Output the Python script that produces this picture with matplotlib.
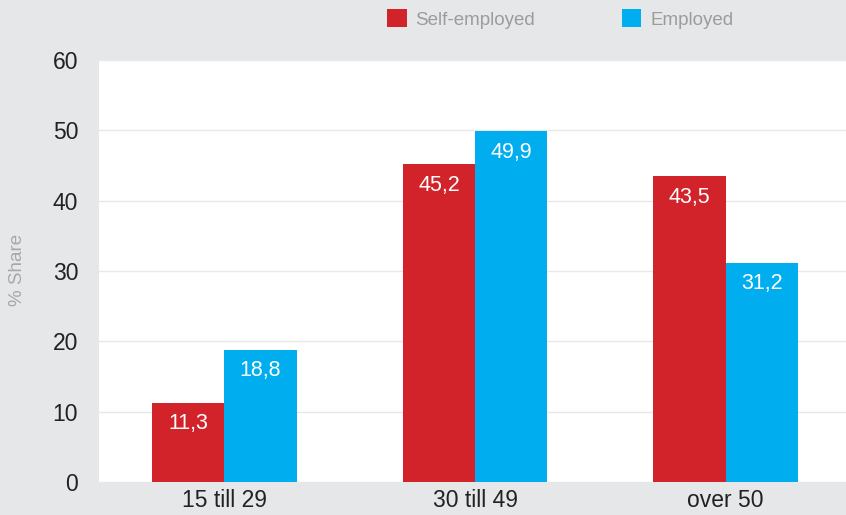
import matplotlib.pyplot as plt
import numpy as np

categories = ["15 till 29", "30 till 49", "over 50"]
self_employed = [11.3, 45.2, 43.5]
employed = [18.8, 49.9, 31.2]
series_names = ["Self-employed", "Employed"]

RED = "#D2232A"
BLUE = "#00AEEF"
BG = "#E6E7E8"

plt.rcParams['font.family'] = ['Liberation Sans', 'DejaVu Sans']

fig = plt.figure(figsize=(8.46, 5.15), dpi=100, facecolor=BG)
ax = fig.add_axes([99 / 846, 33 / 515, 747 / 846, 422 / 515])
ax.set_facecolor("white")

x = np.arange(len(categories))
w = 0.288
b1 = ax.bar(x - w / 2, self_employed, w, color=RED, label=series_names[0], zorder=3)
b2 = ax.bar(x + w / 2, employed, w, color=BLUE, label=series_names[1], zorder=3)

for bars, vals in ((b1, self_employed), (b2, employed)):
    for rect, v in zip(bars, vals):
        ax.annotate(f"{v:.1f}".replace(".", ","),
                    (rect.get_x() + rect.get_width() / 2, v),
                    xytext=(0, -21), textcoords="offset pixels",
                    ha="center", va="center", color="white", fontsize=15.5, zorder=4)

ax.set_xlim(-0.5, 2.48)
ax.set_ylim(0, 60)
ax.set_yticks(range(0, 61, 10))
ax.set_xticks(x)
ax.set_xticklabels(categories)
ax.grid(axis="y", color="#E8E8E8", linewidth=1, zorder=0)
for s in ax.spines.values():
    s.set_visible(False)
ax.tick_params(length=0, labelsize=16.5, labelcolor="#222222")
ax.tick_params(axis="y", pad=15)
ax.tick_params(axis="x", pad=5)

fig.text(17 / 846, 1 - 270 / 515, "% Share", rotation=90, ha="center", va="center",
         color="#A8A8A8", fontsize=13.5)

fig.legend(handles=[b1, b2], loc="center left", bbox_to_anchor=(387 / 846, 1 - 19 / 515),
           ncol=2, frameon=False, handlelength=1.05, handleheight=1.05, handletextpad=0.47,
           columnspacing=4.6, borderpad=0, borderaxespad=0, fontsize=13.5,
           labelcolor="#9C9C9C")

fig.savefig("out.png", dpi=100, facecolor=BG)
